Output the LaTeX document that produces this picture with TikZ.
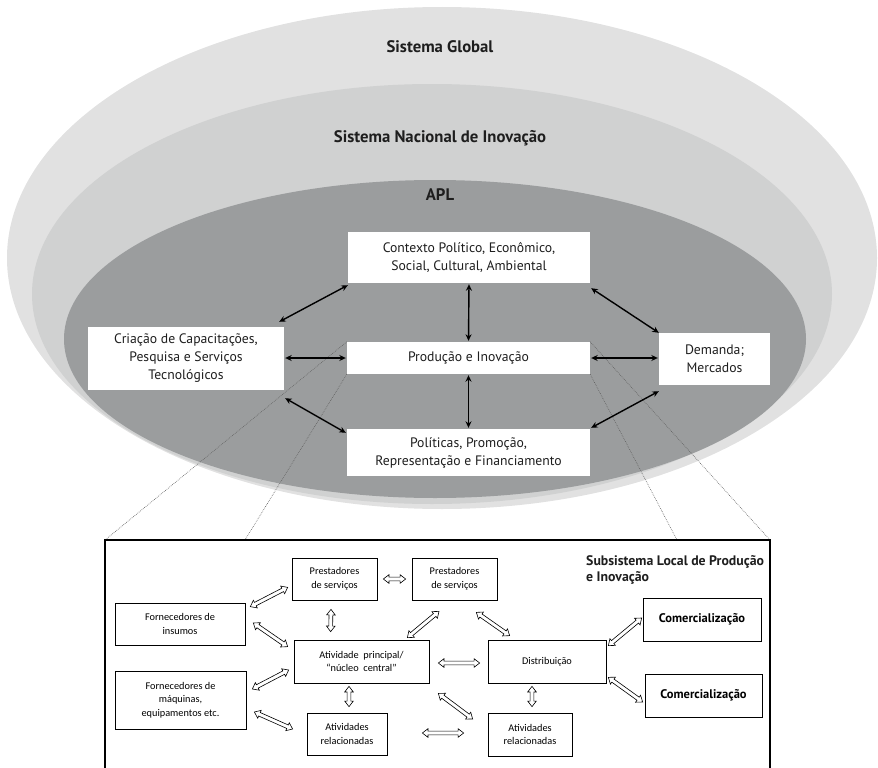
\documentclass[tikz,border=0pt]{standalone}
\usepackage{fontspec}
\setmainfont{PT Sans}
\newfontfamily\smallboxfont{Carlito}
\usetikzlibrary{arrows.meta,shapes.arrows,calc}

\definecolor{globalgray}{RGB}{225,225,225}
\definecolor{nacionalgray}{RGB}{208,209,209}
\definecolor{aplgray}{RGB}{155,157,158}
\definecolor{dotgray}{RGB}{95,95,95}
\definecolor{labelgray}{RGB}{30,30,30}

% hollow two-headed block arrow between two named coordinates
\newcommand\hollowpair[2]{%
  \path let \p1=($(#2)-(#1)$), \n1={veclen(\x1,\y1)} in
    (#1) -- node[hollowarrow, sloped, minimum height=\n1] {} (#2);%
}

\begin{document}
\begin{tikzpicture}[x=1pt,y=-1pt,
  aplbox/.style={fill=white, inner sep=0pt, align=center, text=labelgray,
    font=\fontsize{13.7}{18}\selectfont},
  subbox/.style={draw, line width=0.7pt, fill=white, inner sep=0pt, align=center,
    font=\smallboxfont\fontsize{10.3}{13.5}\selectfont},
  combox/.style={subbox, font=\bfseries\fontsize{12.5}{14}\selectfont},
  layertitle/.style={inner sep=0pt, text=labelgray, font=\bfseries\fontsize{16.7}{18}\selectfont},
  blackarrow/.style={{Stealth[length=6.5pt,width=6pt]}-{Stealth[length=6.5pt,width=6pt]},
    line width=1.4pt},
  zoomline/.style={dotgray, line width=0.6pt, dash pattern=on 0.7pt off 1.1pt},
  hollowarrow/.style={shape=double arrow, draw, fill=white, line width=0.6pt,
    inner xsep=0pt, inner ysep=1.6pt, double arrow head extend=2.4pt,
    double arrow tip angle=75}
]
\useasboundingbox (0,0) rectangle (878,768);
\clip (0,0) rectangle (878,768);

% nested systems
\fill[globalgray]   (442,258) ellipse [x radius=435pt, y radius=251pt];
\fill[nacionalgray] (432,294) ellipse [x radius=400pt, y radius=210pt];
\fill[aplgray]      (435,339) ellipse [x radius=371pt, y radius=159pt];

\node[layertitle] (tglobal) at (440,47) {Sistema Global};
\node[layertitle] (tnac) at (440,138) {Sistema Nacional de Inovação};
\node[layertitle] (tapl) at (440,195) {APL};

% APL boxes
\node[aplbox, minimum width=242pt, minimum height=51pt] (ctx) at (469,257.5)
  {Contexto Político, Econômico,\\Social, Cultural, Ambiental};
\node[aplbox, minimum width=243pt, minimum height=32pt] (prod) at (468.5,358)
  {Produção e Inovação};
\node[aplbox, minimum width=243pt, minimum height=47pt] (pol) at (468.5,452.5)
  {Políticas, Promoção,\\Representação e Financiamento};
\node[aplbox, minimum width=196pt, minimum height=63pt] (cria) at (186,358.5)
  {Criação de Capacitações,\\Pesquisa e Serviços\\Tecnológicos};
\node[aplbox, minimum width=111pt, minimum height=52pt] (dem) at (714.5,359)
  {Demanda;\\Mercados};

% zoom frame of the local subsystem
\coordinate (subnw) at (105,540);
\coordinate (subne) at (770,540);
\coordinate (subsw) at (105,800);
\coordinate (subse) at (770,800);
\coordinate (zl) at (245,540);
\coordinate (zr) at (677,540);
\draw[zoomline] (prod.north west) -- (subnw);
\draw[zoomline] (prod.south west) -- (zl);
\draw[zoomline] (prod.south east) -- (zr);
\draw[zoomline] (prod.north east) -- (subne);
\draw[line width=1.3pt] (subsw) -- (subnw) -- (subne) -- (subse);

% APL relations
\coordinate (b5a) at ($(cria.north east)+(-5,-5)$);
\coordinate (b5b) at ($(ctx.south west)+(0,2)$);
\coordinate (b6a) at ($(cria.south east)+(1,8)$);
\coordinate (b6b) at ($(pol.north west)+(-1,4)$);
\coordinate (b7a) at ($(ctx.south east)+(1,5)$);
\coordinate (b7b) at (dem.north west);
\coordinate (b8a) at ($(pol.north east)+(1,-1)$);
\coordinate (b8b) at ($(dem.south west)+(0,6)$);
\draw[blackarrow, shorten <=1pt, shorten >=1pt] (ctx.south) -- (prod.north);
\draw[blackarrow, shorten <=1pt, shorten >=1pt] (prod.south) -- (pol.north);
\draw[blackarrow, shorten <=1pt, shorten >=1pt] (cria.east |- prod.west) -- (prod.west);
\draw[blackarrow, shorten <=1pt, shorten >=1pt] (prod.east) -- (dem.west |- prod.east);
\draw[blackarrow] (b5a) -- (b5b);
\draw[blackarrow] (b6a) -- (b6b);
\draw[blackarrow] (b7a) -- (b7b);
\draw[blackarrow] (b8a) -- (b8b);

% local subsystem
\node[anchor=north west, align=left, inner sep=0pt, text=labelgray,
  font=\bfseries\fontsize{13.8}{16.5}\selectfont] (subtitle) at (586,555)
  {Subsistema Local de Produção\\e Inovação};

\node[subbox, minimum width=85pt, minimum height=42pt] (prest1) at (334.5,579) {Prestadores\\de serviços};
\node[subbox, minimum width=85pt, minimum height=42pt] (prest2) at (454.5,579) {Prestadores\\de serviços};
\node[subbox, minimum width=130pt, minimum height=42pt] (forn1) at (180,624) {Fornecedores de\\insumos};
\node[subbox, minimum width=135pt, minimum height=43pt] (ativ) at (361.5,661.5) {Atividade\ \ principal/\\“núcleo\ \ central”};
\node[subbox, minimum width=131pt, minimum height=58pt] (forn2) at (180.5,700) {Fornecedores de\\máquinas,\\equipamentos etc.};
\node[subbox, minimum width=80pt, minimum height=42pt] (rel1) at (347,734) {Atividades\\relacionadas};
\node[subbox, minimum width=118pt, minimum height=43pt] (dist) at (547,661.5) {Distribuição};
\node[subbox, minimum width=84pt, minimum height=43pt] (rel2) at (530,734.5) {Atividades\\relacionadas};
\node[combox, minimum width=118pt, minimum height=43pt] (com1) at (702,619.5) {Comercialização};
\node[combox, minimum width=117pt, minimum height=43pt] (com2) at (703.5,695.5) {Comercialização};

% ends of the block arrows
\coordinate (h1a) at ($(forn1.north east)+(5,4)$);
\coordinate (h1b) at ($(prest1.south west)+(-4,-13)$);
\coordinate (h2a) at ($(forn1.east)+(8,-1)$);
\coordinate (h2b) at ($(ativ.north west)+(-6,7)$);
\coordinate (h3a) at ($(prest1.south)+(-3.5,9)$);
\coordinate (h3b) at ($(ativ.north west)+(37,-8)$);
\coordinate (h4a) at ($(prest1.east)+(6,0)$);
\coordinate (h4b) at ($(prest2.west)+(-6,0)$);
\coordinate (h5a) at ($(ativ.north east)+(-22,-2)$);
\coordinate (h5b) at ($(prest2.south)+(-15.5,11)$);
\coordinate (h6a) at ($(prest2.south east)+(-21,12)$);
\coordinate (h6b) at ($(dist.north west)+(22,-4)$);
\coordinate (h7a) at ($(ativ.east)+(9,1.5)$);
\coordinate (h7b) at ($(dist.west)+(-8,1.5)$);
\coordinate (h8a) at ($(forn2.east)+(6,-11)$);
\coordinate (h8b) at ($(ativ.west)+(-5,8.5)$);
\coordinate (h9a) at ($(forn2.east)+(8,12)$);
\coordinate (h9b) at ($(rel1.west)+(-14,-5)$);
\coordinate (h10a) at ($(ativ.south)+(-12.5,3)$);
\coordinate (h10b) at ($(rel1.north)+(2,-6)$);
\coordinate (h11a) at ($(ativ.south east)+(9,10)$);
\coordinate (h11b) at ($(rel2.west)+(-15,-15.5)$);
\coordinate (h12a) at ($(rel1.east)+(35,-1)$);
\coordinate (h12b) at ($(rel2.west)+(-24,-1.5)$);
\coordinate (h13a) at ($(dist.south)+(-15,3)$);
\coordinate (h13b) at ($(rel2.north)+(2,-6)$);
\coordinate (h14a) at ($(dist.north east)+(2,6)$);
\coordinate (h14b) at ($(com1.west)+(-1,-1.5)$);
\coordinate (h15a) at ($(dist.south east)+(2,-6)$);
\coordinate (h15b) at ($(com2.west)+(-2,6.5)$);

\hollowpair{h1a}{h1b}
\hollowpair{h2a}{h2b}
\hollowpair{h3a}{h3b}
\hollowpair{h4a}{h4b}
\hollowpair{h5a}{h5b}
\hollowpair{h6a}{h6b}
\hollowpair{h7a}{h7b}
\hollowpair{h8a}{h8b}
\hollowpair{h9a}{h9b}
\hollowpair{h10a}{h10b}
\hollowpair{h11a}{h11b}
\hollowpair{h12a}{h12b}
\hollowpair{h13a}{h13b}
\hollowpair{h14a}{h14b}
\hollowpair{h15a}{h15b}
\end{tikzpicture}
\end{document}
